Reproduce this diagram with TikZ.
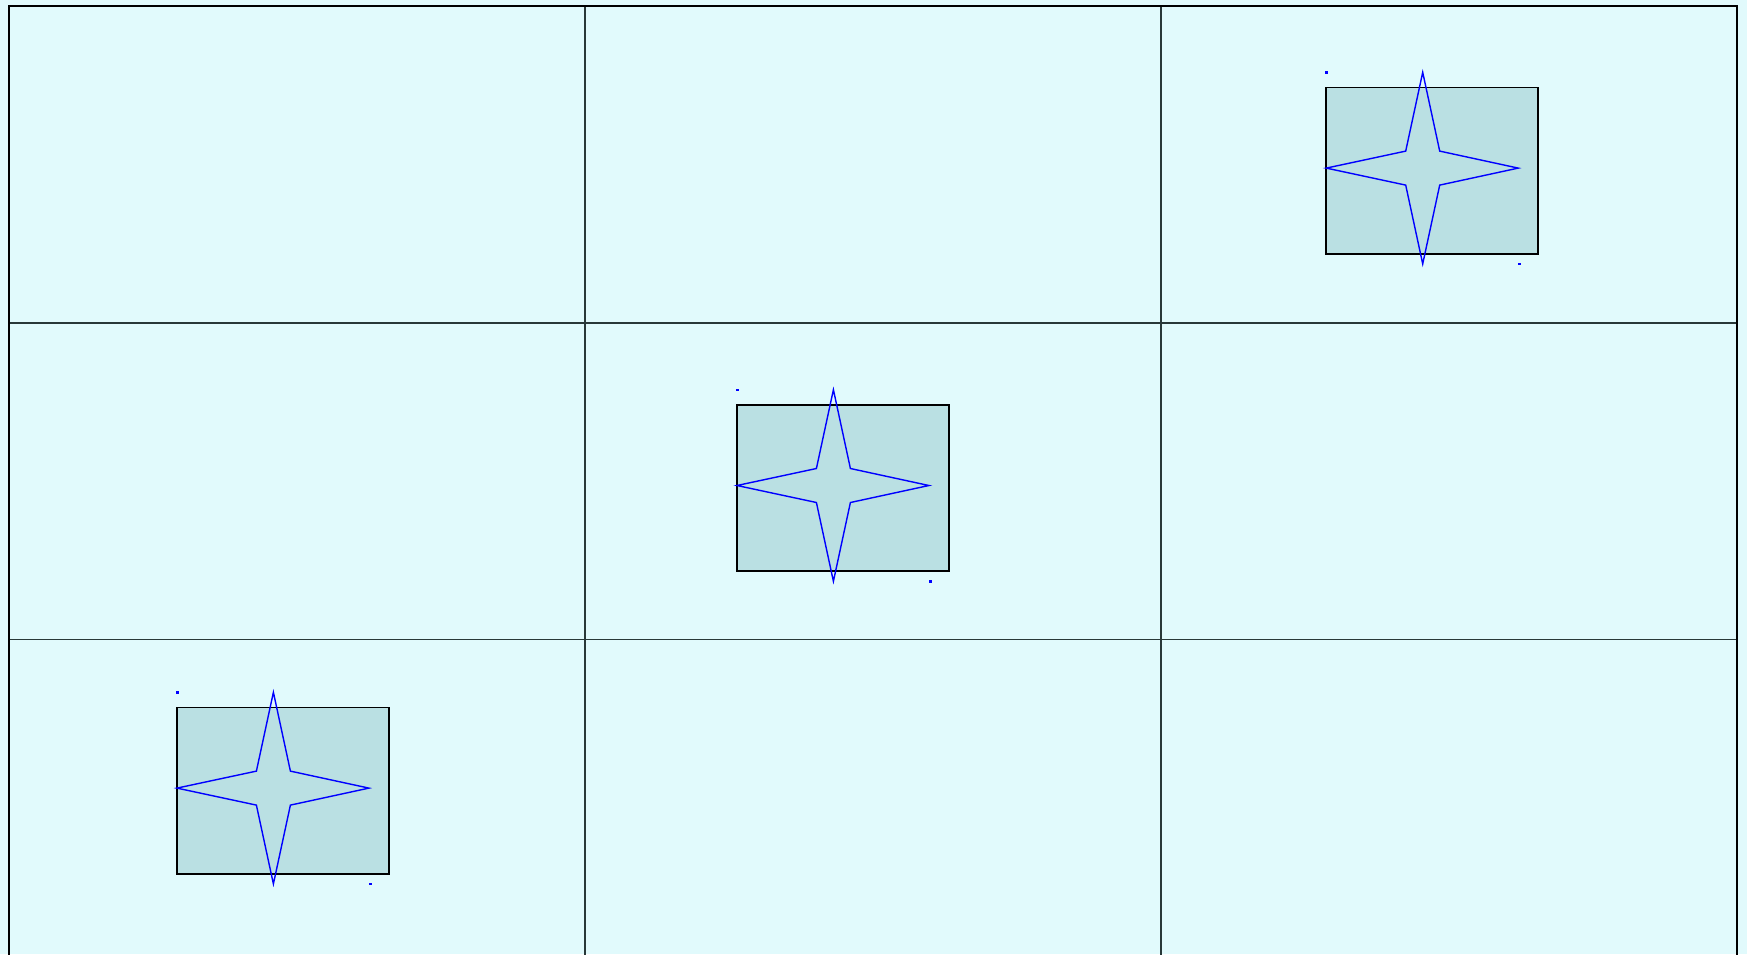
\documentclass[tikz,border=0pt]{standalone}
\usepackage{tikz}
\definecolor{gridbg}{HTML}{E1FAFC}
\definecolor{tilefill}{HTML}{BAE0E3}
\definecolor{gridrule}{HTML}{283838}
\tikzset{
  frame/.style={draw=black,line width=2.3pt},
  cellrule/.style={draw=gridrule,line width=1.6pt},
  tile/.style={draw=black,fill=tilefill,line width=1.6pt},
  sparkle/.style={draw=blue,line width=1.4pt,line join=miter},
  cornerdot/.style={fill=blue}
}

\begin{document}
\begin{tikzpicture}[x=1pt,y=-1pt]
  \fill[gridbg] (0,0) rectangle (1747,954);
  \useasboundingbox (0,0) rectangle (1747,954);
  % 3x3 grid
  \draw[cellrule] (585,6) -- (585,956);
  \draw[cellrule] (1161,6) -- (1161,956);
  \draw[cellrule] (9,322.7) -- (1737,322.7);
  \draw[cellrule] (9,639.3) -- (1737,639.3);
  \draw[frame] (9,6) rectangle (1737,956);
  % tiles on the diagonal, each with a four-point star
  \foreach \ox/\oy in {1326/87.3, 736.7/404.7, 176.7/707.3} {
    \begin{scope}[shift={(\ox,\oy)}]
      \draw[tile] (0,0) rectangle (212,166.5);
      \draw[sparkle] (0.3,80.8) -- (79.7,63.8) -- (96.7,-15) -- (113.7,63.8)
        -- (192.2,80.8) -- (113.7,97.8) -- (96.7,176.6) -- (79.7,97.8) -- cycle;
      \fill[cornerdot] (-0.7,-16) rectangle (2.3,-13.8);
      \fill[cornerdot] (191.8,175.7) rectangle (194.8,177.9);
    \end{scope}
  }
\end{tikzpicture}
\end{document}
